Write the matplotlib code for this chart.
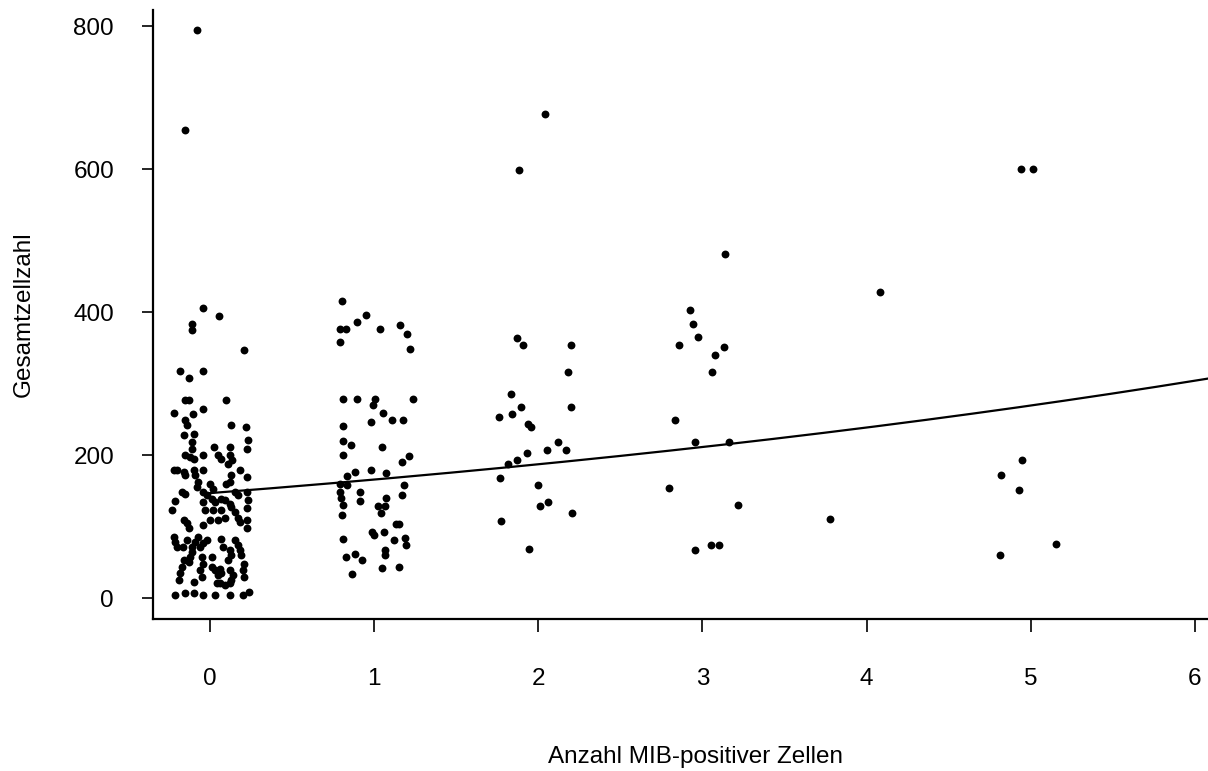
import numpy as np
import matplotlib.pyplot as plt

plt.rcParams['font.family'] = ['Liberation Sans', 'DejaVu Sans']

# jittered MIB counts and total cell counts, grouped by MIB count
x0 = [-0.08, -0.15, -0.04, 0.057, -0.11, -0.11, 0.207, -0.18, -0.04, -0.128,
      -0.152, -0.126, 0.10, -0.22, -0.04, -0.105, -0.15, -0.14, 0.128, 0.219,
      -0.16, -0.10, 0.233, 0.227, -0.11, -0.11, 0.026, 0.122, -0.152, -0.122,
      -0.10, -0.04, 0.05, 0.07, 0.122, 0.132, 0.11, -0.22, -0.20, -0.16,
      -0.15, -0.10, -0.09, -0.075, -0.08, -0.04, 0.18, 0.13, 0.12, 0.223,
      0.0, 0.02, 0.10, -0.17, -0.15, -0.04, -0.02, 0.15, 0.17, 0.226,
      0.23, 0.01, 0.03, 0.07, 0.09, 0.12, 0.13, -0.21, -0.04, -0.03,
      0.02, 0.223, -0.23, 0.07, 0.15, 0.17, 0.18, -0.16, -0.14, -0.13,
      0.0, 0.05, 0.09, -0.04, 0.226, 0.226, -0.22, -0.21, -0.20, -0.162,
      -0.142, -0.111, -0.091, -0.071, -0.061, -0.04, -0.02, 0.07, 0.08, 0.15,
      0.17, 0.18, 0.19, 0.21, 0.12, 0.13, 0.11, -0.11, -0.12, -0.13,
      0.01, -0.05, -0.04, -0.06, -0.05, -0.16, -0.17, -0.18, -0.19, 0.01,
      0.03, 0.06, 0.07, 0.05, 0.12, 0.14, 0.13, 0.20, 0.21, -0.10,
      0.04, 0.06, 0.12, 0.09, -0.21, -0.15, -0.10, -0.04, 0.03, 0.12,
      0.20, 0.24]
y0 = [795, 655, 406, 395, 384, 376, 347, 318, 318, 308,
      278, 278, 278, 259, 265, 258, 249, 242, 242, 240,
      229, 230, 221, 209, 218, 209, 212, 212, 200, 198,
      195, 200, 200, 195, 201, 194, 188, 179, 179, 177,
      172, 179, 172, 163, 156, 179, 179, 172, 163, 170,
      160, 153, 160, 149, 146, 149, 144, 149, 144, 149,
      137, 139, 135, 139, 137, 132, 128, 136, 135, 123,
      123, 126, 123, 123, 121, 112, 107, 109, 105, 98,
      109, 109, 112, 102, 109, 98, 86, 79, 72, 72,
      81, 72, 79, 86, 72, 77, 81, 83, 72, 81,
      74, 67, 60, 48, 67, 60, 53, 65, 58, 51,
      58, 58, 48, 39, 30, 53, 44, 35, 26, 44,
      39, 41, 35, 32, 39, 32, 25, 39, 30, 23,
      21, 21, 21, 19, 5, 7, 7, 5, 5, 5,
      5, 9]

x1 = [0.805, 0.893, 0.949, 0.791, 0.826, 1.035, 1.156, 1.203, 0.795, 1.217,
      0.808, 0.897, 1.005, 1.234, 0.994, 1.055, 1.11, 1.177, 0.978, 0.808,
      0.811, 0.858, 0.808, 1.047, 1.21, 1.167, 0.882, 0.832, 0.978, 1.07,
      0.795, 0.836, 0.795, 0.80, 0.81, 0.913, 0.913, 1.183, 1.169, 1.07,
      1.065, 1.024, 1.041, 0.805, 1.136, 1.15, 0.99, 1.0, 1.06, 0.811,
      1.12, 1.187, 1.197, 0.826, 0.881, 0.925, 1.067, 1.067, 1.049, 1.15,
      0.868]
y1 = [416, 387, 396, 377, 377, 377, 382, 370, 358, 349,
      279, 279, 279, 279, 270, 259, 250, 250, 246, 241,
      220, 215, 200, 211, 199, 191, 176, 171, 180, 175,
      160, 159, 149, 140, 131, 149, 136, 159, 144, 140,
      129, 129, 119, 117, 104, 104, 93, 88, 93, 83,
      81, 85, 74, 58, 62, 53, 67, 60, 43, 44,
      34]

x2 = [2.039, 1.885, 1.873, 1.907, 2.2, 2.183, 1.832, 1.76, 1.84, 1.897,
      2.2, 1.937, 1.954, 2.12, 2.051, 2.169, 1.929, 1.87, 1.818, 1.769,
      2.0, 2.009, 2.057, 2.207, 1.773, 1.943]
y2 = [678, 599, 364, 354, 355, 316, 286, 253, 258, 267,
      267, 244, 239, 219, 208, 208, 203, 194, 188, 168,
      158, 129, 134, 119, 108, 69]

x3 = [3.14, 2.923, 2.94, 2.976, 2.857, 3.074, 3.131, 3.06, 2.834, 2.957,
      3.165, 2.798, 3.215, 2.954, 3.055, 3.098]
y3 = [481, 403, 384, 365, 355, 340, 351, 317, 249, 219,
      219, 154, 130, 68, 74, 74]

x4 = [4.082, 3.78]
y4 = [429, 111]

x5 = [4.942, 5.013, 4.944, 4.82, 4.928, 5.155, 4.81]
y5 = [600, 600, 193, 173, 152, 76, 61]

# fitted exponential trend
fit_a = 147.1
fit_b = 0.1212

fig = plt.figure(figsize=(12.08, 7.71), dpi=100)
ax = fig.add_axes([153 / 1208, 1 - 619 / 771, 1 - 153 / 1208, (619 - 10) / 771])

xs = np.concatenate([x0, x1, x2, x3, x4, x5])
ys = np.concatenate([y0, y1, y2, y3, y4, y5])
ax.scatter(xs, ys, s=32, color='black', linewidths=0, zorder=3)

xc = np.linspace(0, 6.2, 200)
ax.plot(xc, fit_a * np.exp(fit_b * xc), color='black', lw=1.6, zorder=2)

ax.set_xlim(-0.347, 6.08)
ax.set_ylim(-29, 823)
ax.set_xticks(range(0, 7))
ax.set_yticks(range(0, 801, 200))

ax.spines['top'].set_visible(False)
ax.spines['right'].set_visible(False)
ax.spines['left'].set_linewidth(1.6)
ax.spines['bottom'].set_linewidth(1.6)
ax.tick_params(axis='x', length=9, width=1.2, pad=26, labelsize=17.5)
ax.tick_params(axis='y', length=8, width=1.2, pad=20, labelsize=17.5)

ax.set_xlabel('Anzahl MIB-positiver Zellen', fontsize=17.5)
ax.set_ylabel('Gesamtzellzahl', fontsize=17.5)
ax.xaxis.set_label_coords(0.514, -0.208)
ax.yaxis.set_label_coords(-0.112, 0.5)

fig.savefig('out.png', dpi=100)
